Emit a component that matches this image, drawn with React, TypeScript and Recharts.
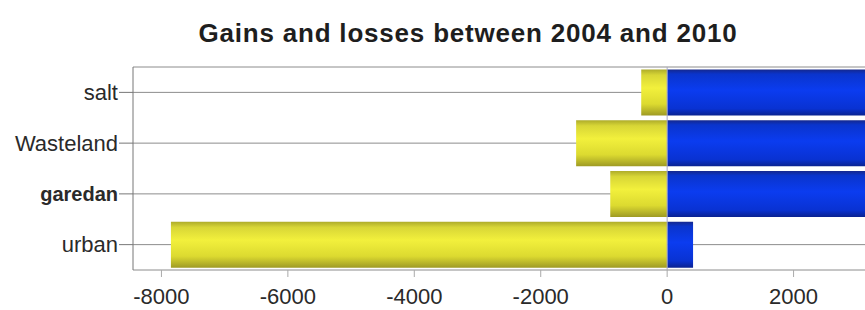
import React from "react";
import {
  BarChart, Bar, XAxis, YAxis, CartesianGrid, ReferenceLine,
} from "recharts";

const categories = ["salt", "Wasteland", "garedan", "urban"];
const losses = [-410, -1440, -900, -7850];
const gains = [4500, 4200, 3900, 410];
const xTicks = [-8000, -6000, -4000, -2000, 0, 2000];

const data = categories.map((name, i) => ({ name, loss: losses[i], gain: gains[i] }));

const FONT = "'Liberation Sans', Arial, sans-serif";

function CategoryTick(props: any) {
  const { x, y, payload } = props;
  const bold = payload.value === "garedan";
  return (
    <text
      x={x} y={y} dy="0.35em" textAnchor="end"
      fontFamily={FONT} fontSize={bold ? 20 : 22} fontWeight={bold ? "bold" : "normal"}
      fill="#2a2a2a"
    >
      {payload.value}
    </text>
  );
}

export default function App() {
  return (
    <div style={{ position: "absolute", left: 0, top: 0, width: 865, height: 310, overflow: "hidden", background: "#fff" }}>
      <svg width={865} height={60} style={{ position: "absolute", left: 0, top: 0 }}>
        <text x={468} y={42} textAnchor="middle" fontFamily={FONT} fontSize={26}
          fontWeight="bold" letterSpacing={0.8} fill="#1e1e1e">
          Gains and losses between 2004 and 2010
        </text>
      </svg>
      <BarChart
        width={865} height={310} data={data} layout="vertical" stackOffset="sign"
        barCategoryGap="5%" margin={{ top: 67, right: 0, bottom: 0, left: 0 }}
      >
        <defs>
          <linearGradient id="yellowGrad" x1="0" y1="0" x2="0" y2="1">
            <stop offset="0%" stopColor="#aeac2a" />
            <stop offset="12%" stopColor="#d8d636" />
            <stop offset="40%" stopColor="#f2f03c" />
            <stop offset="75%" stopColor="#dcda30" />
            <stop offset="100%" stopColor="#9e9a24" />
          </linearGradient>
          <linearGradient id="blueGrad" x1="0" y1="0" x2="0" y2="1">
            <stop offset="0%" stopColor="#15288e" />
            <stop offset="10%" stopColor="#0a34cc" />
            <stop offset="45%" stopColor="#0b3cf0" />
            <stop offset="85%" stopColor="#0932d2" />
            <stop offset="100%" stopColor="#0a2290" />
          </linearGradient>
        </defs>
        <CartesianGrid vertical={false} stroke="#8c8c8c" />
        <XAxis
          type="number" domain={[-8450, 3130]} allowDataOverflow ticks={xTicks}
          height={40} axisLine={false} tickSize={7} tickMargin={11}
          tickLine={{ stroke: "#aaa" }}
          tick={{ fontFamily: FONT, fontSize: 22, fill: "#2a2a2a" }}
        />
        <XAxis
          xAxisId="top" orientation="top" type="number" domain={[-8450, 3130]}
          height={0} tick={false} tickLine={false} axisLine={{ stroke: "#8a8a8a" }}
        />
        <YAxis
          type="category" dataKey="name" width={133}
          axisLine={{ stroke: "#777" }} tickLine={{ stroke: "#777" }}
          tickSize={14} tickMargin={1} tick={<CategoryTick />}
        />
        <Bar dataKey="loss" stackId="a" fill="url(#yellowGrad)" isAnimationActive={false} />
        <Bar dataKey="gain" stackId="a" fill="url(#blueGrad)" isAnimationActive={false} />
        <ReferenceLine x={0} stroke="#a8a8c0" />
      </BarChart>
    </div>
  );
}
